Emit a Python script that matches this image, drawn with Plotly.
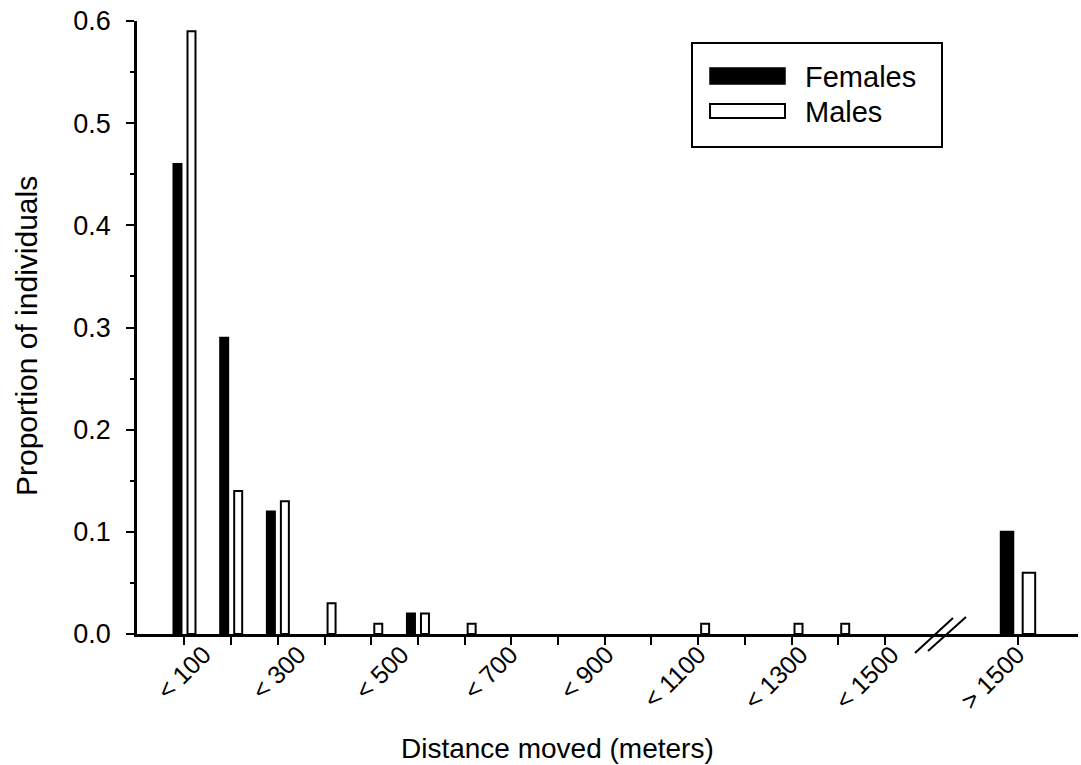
import plotly.graph_objects as go

# ---- data ----
categories = ["< 100", "< 200", "< 300", "< 400", "< 500", "< 600", "< 700", "< 800",
              "< 900", "< 1000", "< 1100", "< 1200", "< 1300", "< 1400", "< 1500"]
females = [0.46, 0.29, 0.12, 0.0, 0.0, 0.02, 0.0, 0.0, 0.0, 0.0, 0.0, 0.0, 0.0, 0.0, 0.0]
males = [0.59, 0.14, 0.13, 0.03, 0.01, 0.02, 0.01, 0.0, 0.0, 0.0, 0.0, 0.01, 0.0, 0.01, 0.01]
far_category = "> 1500"
females_far = [0.10]
males_far = [0.06]
tick_labels = ["< 100", "< 300", "< 500", "< 700", "< 900", "< 1100", "< 1300", "< 1500"]
y_ticks = [0.0, 0.1, 0.2, 0.3, 0.4, 0.5, 0.6]

# ---- layout constants (pixels of the 1081x765 page) ----
W, H = 1081, 765
ML, MR, MT, MB = 137, 3, 21, 131
PW = W - ML - MR
PH = H - MT - MB
BREAK_PX = 940
D = (BREAK_PX - ML) / PW
X1_RANGE = [-0.017, 17.18]
X2_RANGE = [-1.068, 0.822]

def px_x(p):
    return (p - ML) / PW

def px_y(p):
    return (H - MB - p) / PH

FONT = "Liberation Sans, Arial, sans-serif"

pos = list(range(1, len(categories) + 1))
# positions of the labels (the original labels drift relative to the ticks)
label_pos = [1.41, 3.44, 5.65, 7.98, 10.04, 12.01, 14.19, 16.14]
far_label_pos = [-0.01]


def outline(values):
    # zero-height bars get no outline (nothing is drawn for them)
    return [2 if v > 0 else 0 for v in values]


fig = go.Figure()
fig.add_trace(go.Bar(x=pos, y=females, name="Females", xaxis="x", yaxis="y",
                     marker=dict(color="black", line=dict(color="black", width=outline(females))),
                     offsetgroup="f", hovertext=categories))
fig.add_trace(go.Bar(x=pos, y=males, name="Males", xaxis="x", yaxis="y",
                     marker=dict(color="white", line=dict(color="black", width=outline(males))),
                     offsetgroup="m", hovertext=categories))
fig.add_trace(go.Bar(x=[0], y=females_far, name="Females", xaxis="x2", yaxis="y",
                     marker=dict(color="black", line=dict(color="black", width=outline(females_far))),
                     offsetgroup="f", hovertext=[far_category]))
fig.add_trace(go.Bar(x=[0], y=males_far, name="Males", xaxis="x2", yaxis="y",
                     marker=dict(color="white", line=dict(color="black", width=outline(males_far))),
                     offsetgroup="m", hovertext=[far_category]))
# empty helper traces so the label-only overlay axes get drawn
fig.add_trace(go.Scatter(x=[], y=[], xaxis="x3", yaxis="y", showlegend=False, hoverinfo="skip"))
fig.add_trace(go.Scatter(x=[], y=[], xaxis="x4", yaxis="y", showlegend=False, hoverinfo="skip"))

axis_common = dict(showgrid=False, zeroline=False, showline=True, linecolor="black",
                   linewidth=2.5, ticks="outside", ticklen=8, tickwidth=2, tickcolor="black",
                   layer="above traces")

label_axis = dict(anchor="y", side="bottom", showgrid=False, zeroline=False,
                  showline=False, ticks="", tickmode="array", tickangle=-45, ticklen=8,
                  tickfont=dict(family=FONT, size=25, color="black"))

shapes = []
# axis break marks
for (x0, y0, x1, y1) in [(915, 653, 953, 618), (928, 651, 966, 617)]:
    shapes.append(dict(type="line", xref="paper", yref="paper",
                       x0=px_x(x0), y0=px_y(y0), x1=px_x(x1), y1=px_y(y1),
                       line=dict(color="black", width=2)))
# legend box and swatches
shapes.append(dict(type="rect", xref="paper", yref="paper",
                   x0=px_x(692), x1=px_x(942), y0=px_y(147), y1=px_y(43),
                   line=dict(color="black", width=2), fillcolor="white", layer="above"))
shapes.append(dict(type="rect", xref="paper", yref="paper",
                   x0=px_x(710), x1=px_x(785), y0=px_y(84), y1=px_y(68),
                   line=dict(color="black", width=1.5), fillcolor="black", layer="above"))
shapes.append(dict(type="rect", xref="paper", yref="paper",
                   x0=px_x(710), x1=px_x(785), y0=px_y(118), y1=px_y(104),
                   line=dict(color="black", width=2), fillcolor="white", layer="above"))

annotations = [
    dict(text="Females", xref="paper", yref="paper", x=px_x(803), y=px_y(77),
         xanchor="left", yanchor="middle", showarrow=False,
         font=dict(family=FONT, size=29, color="black")),
    dict(text="Males", xref="paper", yref="paper", x=px_x(803), y=px_y(112),
         xanchor="left", yanchor="middle", showarrow=False,
         font=dict(family=FONT, size=29, color="black")),
    dict(text="Distance moved (meters)", xref="paper", yref="paper",
         x=px_x(557), y=px_y(748), xanchor="center", yanchor="middle", showarrow=False,
         font=dict(family=FONT, size=28, color="black")),
    dict(text="Proportion of individuals", xref="paper", yref="paper",
         x=px_x(26), y=px_y(336), xanchor="center", yanchor="middle", showarrow=False,
         textangle=-90, font=dict(family=FONT, size=30, color="black")),
]

fig.update_layout(
    width=W, height=H,
    margin=dict(l=ML, r=MR, t=MT, b=MB, pad=0),
    paper_bgcolor="white", plot_bgcolor="white",
    font=dict(family=FONT, color="black"),
    barmode="group", bargap=0.40, bargroupgap=0.43,
    showlegend=False,
    xaxis=dict(domain=[0, D], range=X1_RANGE, anchor="y",
               tickmode="array", tickvals=list(range(1, len(categories) + 2)),
               showticklabels=False, **axis_common),
    xaxis2=dict(domain=[D, 1], range=X2_RANGE, anchor="y",
                tickmode="array", tickvals=[0], showticklabels=False,
                **axis_common),
    xaxis3=dict(overlaying="x", range=X1_RANGE, tickvals=label_pos,
                ticktext=tick_labels, **label_axis),
    xaxis4=dict(overlaying="x2", range=X2_RANGE, tickvals=far_label_pos,
                ticktext=[far_category], **label_axis),
    yaxis=dict(range=[0, 0.6], anchor="x", tickmode="array", tickvals=y_ticks,
               tickformat=".1f", tickfont=dict(family=FONT, size=27, color="black"),
               ticklabelstandoff=10,
               minor=dict(dtick=0.05, ticks="outside", ticklen=4, tickwidth=2,
                          tickcolor="black"),
               **axis_common),
    shapes=shapes,
    annotations=annotations,
)

fig.write_html("out.html", config={"displayModeBar": False},
               post_script="document.body.style.margin='0';")
